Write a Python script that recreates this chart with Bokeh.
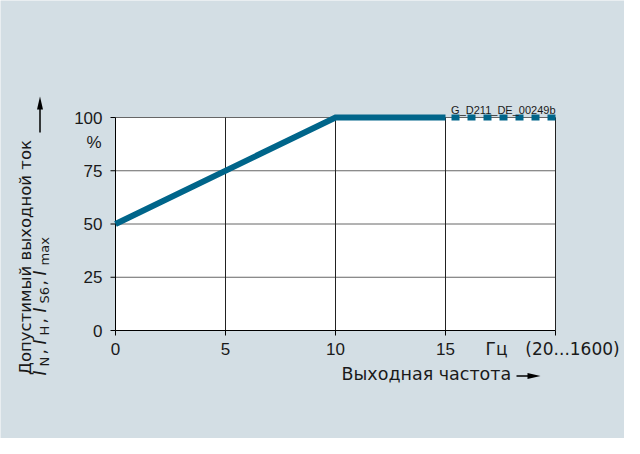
import math
from bokeh.plotting import figure
from bokeh.models import Range1d, Label, Arrow, PolyAnnotation
from bokeh.core.properties import value
from bokeh.embed import file_html
from bokeh.resources import INLINE

# ---- data ----
freq_solid = [0, 10, 15]          # Hz
current_solid = [50, 100, 100]    # %
freq_ext = [15, 20]               # (20...1600) Hz region
current_ext = [100, 100]
x_ticks = [0, 5, 10, 15, 20]
x_tick_labels = ["0", "5", "10", "15", ""]
y_ticks = [0, 25, 50, 75, 100]
y_tick_labels = ["0", "25", "50", "75", "100"]

BG = "#d3dee4"
LINE = "#00658a"
TXT = "#1a1a1a"
FONT = "Liberation Sans"
FONT2 = "DejaVu Sans"

W, H = 624, 438
# page-pixel layout of the plotting frame (page origin = figure origin - 8)
PX0, PX1 = 123.0, 563.0     # x = 0 .. 20
PY0, PY1 = 338.0, 125.0     # y = 0 .. 100
SX = (PX1 - PX0) / (x_ticks[-1] - x_ticks[0])
SY = (PY0 - PY1) / (y_ticks[-1] - y_ticks[0])

def dx(px):
    return x_ticks[0] + (px - PX0) / SX

def dy(py):
    return y_ticks[0] + (PY0 - py) / SY

p = figure(width=W, height=H, output_backend="svg", toolbar_location=None,
           x_range=Range1d(dx(8), dx(8 + W)), y_range=Range1d(dy(8 + H), dy(8)),
           x_axis_location=None, y_axis_location=None,
           min_border=0, min_border_left=0, min_border_right=0,
           min_border_top=0, min_border_bottom=0)
p.border_fill_color = BG
p.background_fill_color = BG
p.outline_line_color = None
p.grid.visible = False

x_lo, x_hi = x_ticks[0], x_ticks[-1]
y_lo, y_hi = y_ticks[0], y_ticks[-1]

# white plotting area
p.quad(left=[x_lo], right=[x_hi], bottom=[y_lo], top=[y_hi],
       fill_color="white", line_color=None)

# grid lines
p.segment(x0=[x_lo] * (len(y_ticks) - 1), y0=y_ticks[1:],
          x1=[x_hi] * (len(y_ticks) - 1), y1=y_ticks[1:],
          line_color="#666666", line_width=1)
p.segment(x0=x_ticks[1:], y0=[y_lo] * (len(x_ticks) - 1),
          x1=x_ticks[1:], y1=[y_hi] * (len(x_ticks) - 1),
          line_color="#222222", line_width=1)
# axis lines
p.segment(x0=[x_lo, x_lo], y0=[y_lo, y_lo], x1=[x_lo, x_hi], y1=[y_hi, y_lo],
          line_color="black", line_width=1)
# tick marks
p.ray(x=[x_lo] * len(y_ticks), y=y_ticks, length=5, angle=math.pi,
      length_units="screen", line_color="black", line_width=1)
p.ray(x=x_ticks, y=[y_lo] * len(x_ticks), length=5, angle=-math.pi / 2,
      length_units="screen", line_color="black", line_width=1)
# tick labels
p.text(x=[x_lo] * len(y_ticks), y=y_ticks, text=y_tick_labels, x_offset=-13,
       text_align="right", text_baseline="middle", text_font=value(FONT),
       text_font_size="17px", text_color=TXT)
p.text(x=x_ticks, y=[y_lo] * len(x_ticks), text=x_tick_labels, y_offset=12,
       text_align="center", text_baseline="top", text_font=value(FONT),
       text_font_size="17px", text_color=TXT)

# data lines
p.line(freq_solid, current_solid, line_color=LINE, line_width=6, line_join="miter")
p.line(freq_ext, current_ext, line_color=LINE, line_width=6, line_dash="8 8",
       line_dash_offset=10)

def lab(text, x, y, size="17px", align="left", baseline="alphabetic", angle=0.0,
        style="normal", font=FONT2):
    p.add_layout(Label(x=dx(x), y=dy(y), text=text, text_font=font,
                       text_font_size=size, text_color=TXT, text_align=align,
                       text_baseline=baseline, angle=angle, text_font_style=style))

# code label
lab("G_D211_DE_00249b", 563, 117, size="11px", align="right", font=FONT)
# % unit
lab("%", 109, 150, align="right", font=FONT)
# x extras
lab("Гц", 504, 356.5, align="center")
lab("(20...1600)", 580, 356.5, align="center")
# x axis title
lab("Выходная частота", 349, 381.5, size="17.5px")
# y axis title line 1
A = math.pi / 2
lab("Допустимый выходной ток", 32.5, 265, size="16.5px", align="center", angle=A)
# y axis title line 2 with italics + subscripts
parts = [("I", 383, "i"), ("N", 374, "s"), (",", 362, "n"),
         ("I", 352, "i"), ("H", 343, "s"), (",", 331, "n"),
         ("I", 320, "i"), ("S6", 311, "s"), (",", 293, "n"),
         ("I", 283, "i"), ("max", 273, "s")]
for t, ystart, kind in parts:
    if kind == "s":
        lab(t, 52, ystart, size="13px", angle=A)
    elif kind == "i":
        lab(t, 47, ystart, angle=A, style="italic")
    else:
        lab(t, 47, ystart, angle=A)

# arrows
p.add_layout(Arrow(x_start=dx(47.5), y_start=dy(140), x_end=dx(47.5), y_end=dy(116),
                   end=None, line_color="black", line_width=1.5))
p.add_layout(PolyAnnotation(xs=[dx(47.5), dx(44.5), dx(50.5)],
                            ys=[dy(104), dy(117), dy(117)],
                            fill_color="black", fill_alpha=1, line_color=None))
p.add_layout(Arrow(x_start=dx(524), y_start=dy(383.5), x_end=dx(536), y_end=dy(383.5),
                   end=None, line_color="black", line_width=1.5))
p.add_layout(PolyAnnotation(xs=[dx(548), dx(535), dx(535)],
                            ys=[dy(383.5), dy(380.5), dy(386.5)],
                            fill_color="black", fill_alpha=1, line_color=None))

open("out.html", "w").write(file_html(p, INLINE))
